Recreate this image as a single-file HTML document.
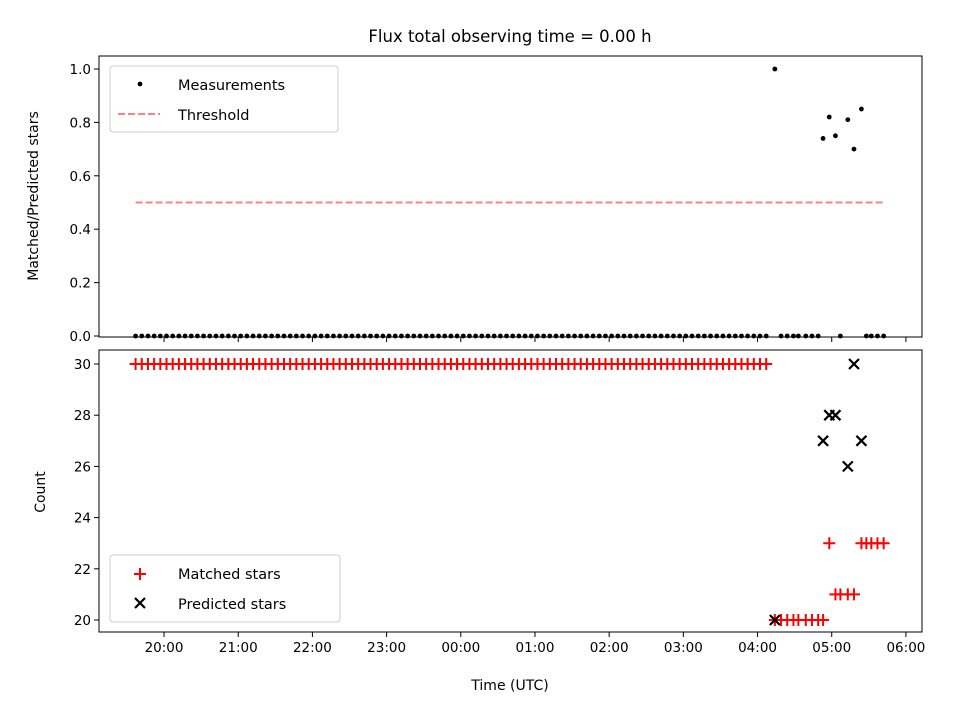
<!DOCTYPE html>
<html><head><meta charset="utf-8"><style>
html,body{margin:0;padding:0;background:#fff}
svg{display:block;font-family:"DejaVu Sans","Liberation Sans",sans-serif}
</style></head><body>
<svg id="chart" width="960" height="720" viewBox="0 0 960 720">
<text x="510" y="42" text-anchor="middle" font-size="16.5">Flux total observing time = 0.00 h</text>
<g id="topPanel"></g>
<g id="botPanel"></g>
</svg>
<script>
// observation times, minutes relative to 20:00 UTC
const times = [-23,-18,-13,-8,-3,2,7,12,17,22,27,32,37,42,47,52,57,62,67,72,
77,82,87,92,97,102,107,112,117,122,127,132,137,142,147,152,157,162,167,172,
177,182,187,192,197,202,207,212,217,222,227,232,237,242,247,252,257,262,267,272,
277,282,287,292,297,302,307,312,317,322,327,332,337,342,347,352,357,362,367,372,
377,382,387,392,397,402,407,412,417,422,427,432,437,442,447,452,457,462,467,472,
477,482,487,
494,499,504,509,513,519,524,529,533,538,543,547,553,558,564,568,572,577,582];
const ratios = [0,0,0,0,0,0,0,0,0,0,0,0,0,0,0,0,0,0,0,0,
0,0,0,0,0,0,0,0,0,0,0,0,0,0,0,0,0,0,0,0,
0,0,0,0,0,0,0,0,0,0,0,0,0,0,0,0,0,0,0,0,
0,0,0,0,0,0,0,0,0,0,0,0,0,0,0,0,0,0,0,0,
0,0,0,0,0,0,0,0,0,0,0,0,0,0,0,0,0,0,0,0,
0,0,0,
1.0,0,0,0,0,0,0,0,0.74,0.82,0.75,0,0.81,0.70,0.85,0,0,0,0];
const matched = [30,30,30,30,30,30,30,30,30,30,30,30,30,30,30,30,30,30,30,30,
30,30,30,30,30,30,30,30,30,30,30,30,30,30,30,30,30,30,30,30,
30,30,30,30,30,30,30,30,30,30,30,30,30,30,30,30,30,30,30,30,
30,30,30,30,30,30,30,30,30,30,30,30,30,30,30,30,30,30,30,30,
30,30,30,30,30,30,30,30,30,30,30,30,30,30,30,30,30,30,30,30,
30,30,30,
20,20,20,20,20,20,20,20,20,23,21,21,21,21,23,23,23,23,23];
const predTimes = [494,533,538,543,553,558,564];
const predicted = [20,27,28,28,26,30,27];
const threshold = [0.5, 0.5];
const thresholdTimes = [-23, 582];
const hourLabels = ["20:00","21:00","22:00","23:00","00:00","01:00","02:00","03:00","04:00","05:00","06:00"];
const topTicks = [0,0.2,0.4,0.6,0.8,1.0];
const botTicks = [20,22,24,26,28,30];

const NS="http://www.w3.org/2000/svg";
function mk(parent,tag,attrs){const e=document.createElementNS(NS,tag);for(const k in attrs)e.setAttribute(k,attrs[k]);parent.appendChild(e);return e;}
const L=99,R=922,xmin=-52.6,xmax=613;
const X=t=>L+(t-xmin)/(xmax-xmin)*(R-L);
const Ytop=v=>336-v*267;
const Ybot=v=>364+(30-v)*25.6;

const topG=document.getElementById('topPanel'), botG=document.getElementById('botPanel');

function frame(g,y0,y1){
  const r=mk(g,'rect',{x:L,y:y0,width:R-L,height:y1-y0,fill:'none',stroke:'#000','stroke-width':1});
  
  
  hourLabels.forEach((h,i)=>{
    const x=X(i*60);
    const t=mk(g,'line',{x1:x,x2:x,y1:y1,y2:y1+5,stroke:'#000','stroke-width':1});
    
    
  });
}
frame(topG,56,337);
frame(botG,350,632);

hourLabels.forEach((h,i)=>{
  const t=mk(botG,'text',{x:X(i*60),y:652,'text-anchor':'middle','font-size':13.5});
  t.textContent=h;
  
  
});
topTicks.forEach(v=>{
  const y=Ytop(v);
  const l=mk(topG,'line',{x1:L-5,x2:L,y1:y,y2:y,stroke:'#000'});
  
  
  const t=mk(topG,'text',{x:L-8,y:y+5,'text-anchor':'end','font-size':13.5});
  t.textContent=v.toFixed(1);
  
  
});
botTicks.forEach(v=>{
  const y=Ybot(v);
  const l=mk(botG,'line',{x1:L-5,x2:L,y1:y,y2:y,stroke:'#000'});
  
  
  const t=mk(botG,'text',{x:L-8,y:y+5,'text-anchor':'end','font-size':13.5});
  t.textContent=String(v);
  
  
});

const th=mk(topG,'line',{x1:X(thresholdTimes[0]),x2:X(thresholdTimes[1]),y1:Ytop(threshold[0]),y2:Ytop(threshold[1]),stroke:'#ff8080','stroke-width':2,'stroke-dasharray':'7,3'});


times.forEach((t,i)=>{
  const c=mk(topG,'circle',{cx:X(t),cy:Ytop(ratios[i]),r:2.4,fill:'#000'});
  
  
});
function plus(g,x,y){
  const p=mk(g,'path',{d:`M${x-6},${y}H${x+6}M${x},${y-6}V${y+6}`,stroke:'#f00','stroke-width':2});
  
  
}
function cross(g,x,y){
  const p=mk(g,'path',{d:`M${x-5},${y-5}L${x+5},${y+5}M${x-5},${y+5}L${x+5},${y-5}`,stroke:'#000','stroke-width':2.2});
  
  
}
times.forEach((t,i)=>plus(botG,X(t),Ybot(matched[i])));
predTimes.forEach((t,i)=>cross(botG,X(t),Ybot(predicted[i])));

const yl1=mk(topG,'text',{x:0,y:0,'text-anchor':'middle','font-size':14,transform:'translate(38,196) rotate(-90)'});
yl1.textContent='Matched/Predicted stars';


const yl2=mk(botG,'text',{x:0,y:0,'text-anchor':'middle','font-size':14,transform:'translate(45,492) rotate(-90)'});
yl2.textContent='Count';


const xl=mk(botG,'text',{x:510,y:690,'text-anchor':'middle','font-size':14});
xl.textContent='Time (UTC)';



function legendBox(g,x,y,w,h){
  const r=mk(g,'rect',{x:x,y:y,width:w,height:h,rx:3,fill:'#fff','fill-opacity':0.8,stroke:'#ccc'});
  
  
}
function legText(g,x,y,s){
  const t=mk(g,'text',{x:x,y:y,'font-size':14.5});
  t.textContent=s;
  
  
}
legendBox(topG,110,66,228,66);
const ld=mk(topG,'circle',{cx:140,cy:84,r:2.4,fill:'#000'});


legText(topG,178,90,'Measurements');
const lt=mk(topG,'line',{x1:118,x2:160,y1:114,y2:114,stroke:'#ff8080','stroke-width':2,'stroke-dasharray':'7,3'});


legText(topG,178,120,'Threshold');

legendBox(botG,110,555,230,67);
plus(botG,140,574);
legText(botG,178,579,'Matched stars');
cross(botG,140,603);
legText(botG,178,609,'Predicted stars');
</script>
</body></html>
